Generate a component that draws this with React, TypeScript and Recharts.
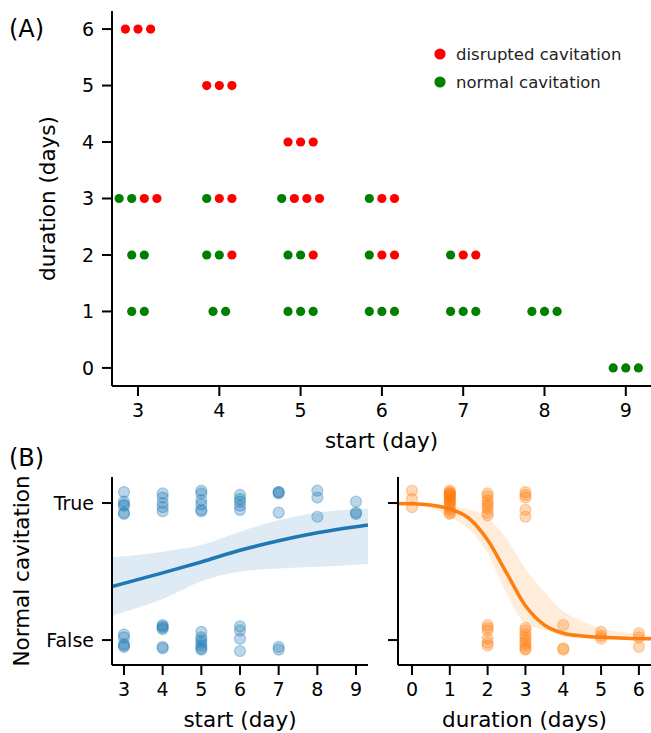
import { ComposedChart, Scatter, ScatterChart, XAxis, YAxis, Line, Area, Legend } from 'recharts';

const FONT = '"DejaVu Sans", sans-serif';
const RED = '#ff0000';
const GREEN = '#008000';
const BLUE = '#1f77b4';
const ORANGE = '#ff7f0e';

// (A) one group per start/duration pair: how many embryos kept normal vs disrupted cavitation
const groupStart = [3, 3, 3, 3, 4, 4, 4, 4, 5, 5, 5, 5, 6, 6, 6, 7, 7, 8, 9];
const groupDuration = [6, 3, 2, 1, 5, 3, 2, 1, 4, 3, 2, 1, 3, 2, 1, 2, 1, 1, 0];
const groupNormal = [0, 2, 2, 2, 0, 1, 2, 2, 0, 1, 2, 3, 1, 1, 3, 1, 3, 3, 3];
const groupDisrupted = [3, 2, 0, 0, 3, 2, 1, 0, 3, 3, 1, 0, 2, 2, 0, 2, 0, 0, 0];

const startTicks = [3, 4, 5, 6, 7, 8, 9];
const durationTicks = [0, 1, 2, 3, 4, 5, 6];

// (B) left: outcome by start day (jittered 0/1 values)
const startDays = [3, 4, 5, 6, 7, 8, 9];
const startTrueY = [
  [1.08, 1.01, 0.99, 0.98, 0.93, 0.92],
  [1.07, 1.04, 1.0, 0.97, 0.94],
  [1.09, 1.07, 1.02, 0.99, 0.95, 0.94],
  [1.06, 1.03, 1.01, 0.98, 0.95],
  [1.08, 1.08, 1.07, 0.93],
  [1.09, 1.04, 0.9],
  [1.01, 0.93, 0.92],
];
const startFalseY = [
  [0.04, 0.02, -0.03, -0.05, -0.04],
  [0.1, 0.09, 0.11, 0.08, -0.05, -0.06],
  [0.06, 0.02, 0.0, -0.02, -0.04, -0.06, -0.07],
  [0.1, 0.07, 0.01, -0.08],
  [-0.05, -0.07],
  [],
  [],
];
const startCurveX = [2.69, 4, 5, 6, 7, 8, 9.31];
const startCurveP = [0.39, 0.49, 0.57, 0.655, 0.725, 0.783, 0.84];
const startBandLow = [0.18, 0.3, 0.43, 0.5, 0.523, 0.535, 0.555];
const startBandHigh = [0.604, 0.645, 0.693, 0.79, 0.876, 0.93, 0.96];

// (B) right: outcome by duration
const durationDays = [0, 1, 2, 3, 4, 5, 6];
const durationTrueY = [
  [1.09, 1.03, 0.97],
  [1.09, 1.08, 1.07, 1.07, 1.06, 1.05, 1.04, 1.03, 1.02, 1.01, 1.0, 0.99, 0.97, 0.95, 0.93, 0.92],
  [1.07, 1.05, 1.02, 1.0, 0.98, 0.96, 0.93, 0.91],
  [1.08, 1.06, 1.04, 0.95, 0.9],
  [],
  [],
  [],
];
const durationFalseY = [
  [],
  [],
  [0.11, 0.09, 0.07, 0.01, -0.02, -0.04],
  [0.09, 0.07, 0.04, 0.02, 0.0, -0.02, -0.04, -0.06, -0.07],
  [0.11, -0.06, -0.07],
  [0.06, 0.03, 0.01],
  [0.05, 0.02, -0.05],
];
const durCurveX = [-0.37, 0, 0.5, 1, 1.5, 2, 2.5, 3, 3.5, 4, 4.5, 5, 5.5, 6, 6.32];
const durCurveP = [0.997, 0.995, 0.985, 0.957, 0.89, 0.73, 0.49, 0.25, 0.11, 0.05, 0.03, 0.02, 0.015, 0.01, 0.01];
const durBandLow = [0.99, 0.985, 0.96, 0.9, 0.81, 0.63, 0.34, 0.12, 0.075, 0.025, 0.012, 0.006, 0.003, 0.001, 0.001];
const durBandHigh = [1.0, 0.998, 0.99, 0.975, 0.955, 0.89, 0.74, 0.52, 0.35, 0.21, 0.14, 0.085, 0.06, 0.04, 0.03];

const DODGE = 0.155;

// dodge the dots of each group side by side, normal (green) first
const dotsA = { normal: [] as any[], disrupted: [] as any[] };
groupStart.forEach((s, g) => {
  const n = groupNormal[g] + groupDisrupted[g];
  for (let i = 0; i < n; i++) {
    const pt = { x: s + (i - (n - 1) / 2) * DODGE, y: groupDuration[g] };
    if (i < groupNormal[g]) dotsA.normal.push(pt);
    else dotsA.disrupted.push(pt);
  }
});

const toPoints = (days: number[], trueY: number[][], falseY: number[][]) =>
  days.flatMap((d, i) => [...trueY[i], ...falseY[i]].map((y) => ({ x: d, y })));

const toCurve = (xs: number[], ps: number[], lo: number[], hi: number[]) =>
  xs.map((x, i) => ({ x, p: ps[i], band: [lo[i], hi[i]] }));

const startPoints = toPoints(startDays, startTrueY, startFalseY);
const durationPoints = toPoints(durationDays, durationTrueY, durationFalseY);
const startCurve = toCurve(startCurveX, startCurveP, startBandLow, startBandHigh);
const durCurve = toCurve(durCurveX, durCurveP, durBandLow, durBandHigh);

const axisLine = { stroke: '#000', strokeWidth: 2 };
const tickLine = { stroke: '#000', strokeWidth: 2 };
const tickStyle = { fill: '#000', fontSize: 19, fontFamily: FONT };

const XTitle = ({ viewBox, value }: any) => {
  const vb = viewBox || { x: 0, y: 0, width: 0 };
  return (
    <text x={vb.x + vb.width / 2} y={vb.y + 54} textAnchor="middle" dominantBaseline="central"
      fontSize={21.5} fontFamily={FONT} fill="#000">{value}</text>
  );
};

const yTitle = (cx: number) => ({ viewBox, value }: any) => {
  const vb = viewBox || { y: 0, height: 0 };
  const cy = vb.y + vb.height / 2;
  return (
    <text x={cx} y={cy} transform={`rotate(-90 ${cx} ${cy})`} textAnchor="middle" dominantBaseline="central"
      fontSize={21.5} fontFamily={FONT} fill="#000">{value}</text>
  );
};

const dot = (color: string) => (props: any) => <circle cx={props.cx} cy={props.cy} r={4.6} fill={color} />;
const ring = (color: string) => (props: any) => (
  <circle cx={props.cx} cy={props.cy} r={5.5} fill={color} fillOpacity={0.3} stroke={color} strokeOpacity={0.35} strokeWidth={1.2} />
);

const LegendBox = ({ payload }: any) => {
  const order = ['disrupted cavitation', 'normal cavitation'];
  const items = [...(payload || [])].sort((a, b) => order.indexOf(a.value) - order.indexOf(b.value));
  return (
    <div style={{ fontFamily: FONT, fontSize: 16.5, color: '#222' }}>
      {items.map((it: any) => (
        <div key={it.value} style={{ display: 'flex', alignItems: 'center', height: 28 }}>
          <svg width={12} height={12} style={{ marginRight: 10 }}>
            <circle cx={6} cy={6} r={5.6} fill={it.color} />
          </svg>
          <span>{it.value}</span>
        </div>
      ))}
    </div>
  );
};

const tfBool = (v: number) => (v === 1 ? 'True' : v === 0 ? 'False' : '');

export default function App() {
  return (
    <div style={{ position: 'absolute', left: 0, top: 0, width: 651, height: 733, background: '#fff', overflow: 'hidden' }}>
      <svg width={651} height={733} style={{ position: 'absolute', left: 0, top: 0, pointerEvents: 'none' }}>
        <text x={9} y={37} fontSize={24} fontFamily={FONT} fill="#000">(A)</text>
        <text x={9} y={466} fontSize={24} fontFamily={FONT} fill="#000">(B)</text>
      </svg>

      <div style={{ position: 'absolute', left: 0, top: 0 }}>
        <ScatterChart width={651} height={460} margin={{ top: 11, right: 0, bottom: 0, left: 0 }}>
          <XAxis type="number" dataKey="x" domain={[2.68, 9.31]} ticks={startTicks} allowDataOverflow interval={0}
            height={74} tickSize={10} tickMargin={8} axisLine={axisLine} tickLine={tickLine} tick={tickStyle}
            label={{ value: 'start (day)', content: XTitle }} />
          <YAxis type="number" dataKey="y" domain={[-0.32, 6.32]} ticks={durationTicks} allowDataOverflow interval={0}
            width={112} tickSize={10} tickMargin={8} axisLine={axisLine} tickLine={tickLine} tick={tickStyle}
            label={{ value: 'duration (days)', content: yTitle(47) }} />
          <Legend layout="vertical" align="center" verticalAlign="middle" content={LegendBox}
            wrapperStyle={{ left: 434, top: 40, width: 220, height: 56 }} />
          <Scatter name="disrupted cavitation" data={dotsA.disrupted} fill={RED} shape={dot(RED)} isAnimationActive={false} />
          <Scatter name="normal cavitation" data={dotsA.normal} fill={GREEN} shape={dot(GREEN)} isAnimationActive={false} />
        </ScatterChart>
      </div>

      <div style={{ position: 'absolute', left: 0, top: 460 }}>
        <ComposedChart width={380} height={273} data={startCurve} margin={{ top: 17, right: 12, bottom: 0, left: 0 }}>
          <XAxis type="number" dataKey="x" domain={[2.69, 9.31]} ticks={startTicks} allowDataOverflow interval={0}
            height={68} tickSize={10} tickMargin={8} axisLine={axisLine} tickLine={tickLine} tick={tickStyle}
            label={{ value: 'start (day)', content: XTitle }} />
          <YAxis type="number" domain={[-0.182, 1.19]} ticks={[0, 1]} allowDataOverflow interval={0} tickFormatter={tfBool}
            width={112} tickSize={10} tickMargin={8} axisLine={axisLine} tickLine={tickLine} tick={tickStyle}
            label={{ value: 'Normal cavitation', content: yTitle(21) }} />
          <Scatter data={startPoints} dataKey="y" shape={ring(BLUE)} isAnimationActive={false} />
          <Area dataKey="band" type="monotone" stroke="none" fill={BLUE} fillOpacity={0.15} isAnimationActive={false} />
          <Line dataKey="p" type="monotone" stroke={BLUE} strokeWidth={3.5} dot={false} isAnimationActive={false} />
        </ComposedChart>
      </div>

      <div style={{ position: 'absolute', left: 380, top: 460 }}>
        <ComposedChart width={271} height={273} data={durCurve} margin={{ top: 17, right: 0, bottom: 0, left: 0 }}>
          <XAxis type="number" dataKey="x" domain={[-0.37, 6.32]} ticks={durationTicks} allowDataOverflow interval={0}
            height={68} tickSize={10} tickMargin={8} axisLine={axisLine} tickLine={tickLine} tick={tickStyle}
            label={{ value: 'duration (days)', content: XTitle }} />
          <YAxis type="number" domain={[-0.182, 1.19]} ticks={[0, 1]} allowDataOverflow interval={0} tickFormatter={() => ''}
            width={18} tickSize={10} tickMargin={4} axisLine={axisLine} tickLine={tickLine} tick={tickStyle} />
          <Scatter data={durationPoints} dataKey="y" shape={ring(ORANGE)} isAnimationActive={false} />
          <Area dataKey="band" type="monotone" stroke="none" fill={ORANGE} fillOpacity={0.15} isAnimationActive={false} />
          <Line dataKey="p" type="monotone" stroke={ORANGE} strokeWidth={3.5} dot={false} isAnimationActive={false} />
        </ComposedChart>
      </div>
    </div>
  );
}
